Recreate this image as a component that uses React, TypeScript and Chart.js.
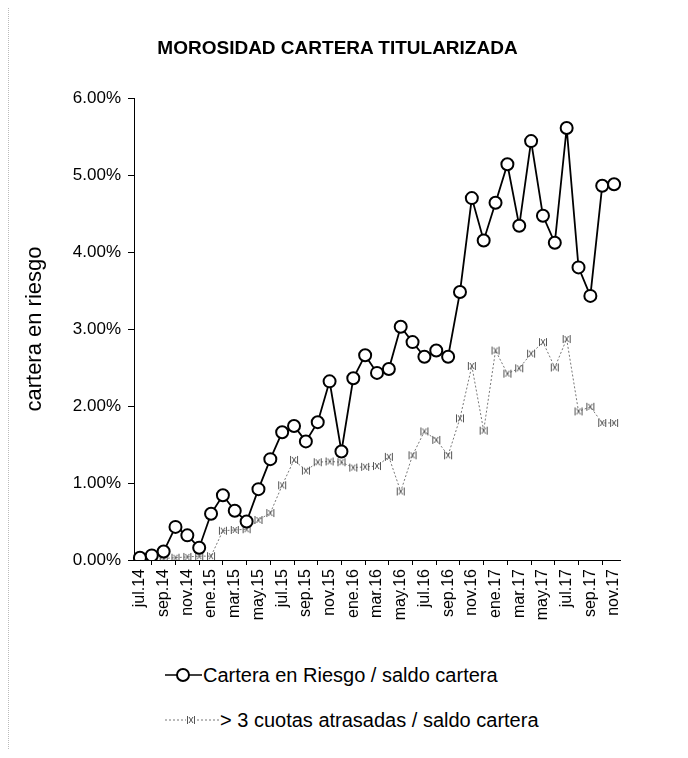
import React, { useEffect, useRef } from "react";
import { Chart, registerables } from "chart.js";

Chart.register(...registerables);

const months = [
  "jul.14", "ago.14", "sep.14", "oct.14", "nov.14", "dic.14",
  "ene.15", "feb.15", "mar.15", "abr.15", "may.15", "jun.15",
  "jul.15", "ago.15", "sep.15", "oct.15", "nov.15", "dic.15",
  "ene.16", "feb.16", "mar.16", "abr.16", "may.16", "jun.16",
  "jul.16", "ago.16", "sep.16", "oct.16", "nov.16", "dic.16",
  "ene.17", "feb.17", "mar.17", "abr.17", "may.17", "jun.17",
  "jul.17", "ago.17", "sep.17", "oct.17", "nov.17",
];

const carteraRiesgo = [
  0.03, 0.06, 0.11, 0.43, 0.32, 0.16,
  0.60, 0.84, 0.64, 0.50, 0.92, 1.31,
  1.66, 1.74, 1.54, 1.79, 2.32, 1.41,
  2.36, 2.66, 2.43, 2.48, 3.03, 2.83,
  2.64, 2.72, 2.64, 3.48, 4.70, 4.15,
  4.64, 5.14, 4.34, 5.44, 4.47, 4.12,
  5.61, 3.80, 3.43, 4.86, 4.88,
];

const tresCuotas = [
  0.00, 0.00, 0.02, 0.03, 0.04, 0.05,
  0.05, 0.38, 0.39, 0.40, 0.52, 0.61,
  0.97, 1.30, 1.16, 1.27, 1.28, 1.27,
  1.20, 1.21, 1.22, 1.34, 0.89, 1.36,
  1.67, 1.56, 1.36, 1.84, 2.52, 1.68,
  2.72, 2.42, 2.49, 2.68, 2.83, 2.50,
  2.87, 1.93, 1.99, 1.78, 1.78,
];

const TITLE = "MOROSIDAD CARTERA TITULARIZADA";
const Y_TITLE = "cartera en riesgo";
const LABEL_A = "Cartera en Riesgo / saldo cartera";
const LABEL_B = "> 3 cuotas atrasadas / saldo cartera";
const Y_MIN = 0;
const Y_MAX = 6;
const Y_STEP = 1;

const FONT = "'Liberation Sans', Arial, Helvetica, sans-serif";

function makeMarker(): HTMLCanvasElement {
  const c = document.createElement("canvas");
  c.width = 10;
  c.height = 10;
  const g = c.getContext("2d")!;
  g.strokeStyle = "#555";
  g.lineWidth = 1;
  g.beginPath();
  g.moveTo(1.5, 1);
  g.lineTo(1.5, 9);
  g.moveTo(8.5, 1);
  g.lineTo(8.5, 9);
  g.moveTo(3, 2);
  g.lineTo(7, 8);
  g.moveTo(7, 2);
  g.lineTo(3, 8);
  g.stroke();
  return c;
}

export default function App() {
  const ref = useRef<HTMLCanvasElement | null>(null);

  useEffect(() => {
    if (!ref.current) return;
    const marker = makeMarker();
    const chart = new Chart(ref.current, {
      type: "line",
      data: {
        labels: months,
        datasets: [
          {
            label: LABEL_A,
            data: carteraRiesgo,
            borderColor: "#000",
            borderWidth: 1.8,
            pointRadius: 6,
            pointBackgroundColor: "#fff",
            pointBorderColor: "#000",
            pointBorderWidth: 2,
            tension: 0,
          },
          {
            label: LABEL_B,
            data: tresCuotas,
            borderColor: "#777",
            borderWidth: 1,
            borderDash: [2, 2],
            pointStyle: marker as any,
            pointRadius: 5,
            tension: 0,
          },
        ],
      },
      options: {
        responsive: false,
        animation: false,
        devicePixelRatio: 1,
        layout: { padding: { left: 8, right: 60, top: 90, bottom: 0 } },
        plugins: {
          legend: { display: false },
          title: { display: false },
          tooltip: { enabled: false },
        },
        scales: {
          x: {
            offset: true,
            grid: {
              display: true,
              drawOnChartArea: false,
              drawTicks: true,
              tickLength: 5,
              color: "#000",
              offset: true,
            },
            border: { display: true, color: "#000", width: 1 },
            ticks: {
              autoSkip: false,
              maxRotation: 90,
              minRotation: 90,
              padding: 4,
              color: "#000",
              font: { family: FONT, size: 16 },
              callback: (_v: any, i: number) => (i % 2 === 0 ? months[i] : null),
            },
            afterFit: (s: any) => {
              s.height = 70;
            },
          },
          y: {
            min: Y_MIN,
            max: Y_MAX,
            ticks: {
              stepSize: Y_STEP,
              padding: 7,
              color: "#000",
              font: { family: FONT, size: 17 },
              callback: (v: any) => Number(v).toFixed(2) + "%",
            },
            grid: {
              display: true,
              drawOnChartArea: false,
              drawTicks: true,
              tickLength: 6,
              color: "#000",
            },
            border: { display: true, color: "#000", width: 1 },
            title: {
              display: true,
              text: Y_TITLE,
              color: "#000",
              font: { family: FONT, size: 22 },
              padding: { top: 6, bottom: 0 },
            },
            afterFit: (s: any) => {
              s.width = 118;
            },
          },
        },
      },
    });
    return () => chart.destroy();
  }, []);

  return (
    <div style={{ position: "relative", width: 672, height: 742, fontFamily: FONT, color: "#000" }}>
      <div
        style={{
          position: "absolute",
          top: -2,
          left: 0,
          width: 680,
          borderTop: "1px dotted #999",
        }}
      />
      <div
        style={{
          position: "absolute",
          top: -2,
          left: 0,
          height: 745,
          borderLeft: "1px dotted #bbb",
        }}
      />
      <div
        style={{
          position: "absolute",
          top: 682,
          left: 675,
          height: 68,
          borderLeft: "1px solid #999",
        }}
      />
      <div
        style={{
          position: "absolute",
          top: 29,
          left: 329.5,
          transform: "translateX(-50%)",
          whiteSpace: "nowrap",
          fontWeight: "bold",
          fontSize: 19,
          lineHeight: "22px",
        }}
      >
        {TITLE}
      </div>
      <canvas ref={ref} width={672} height={622} style={{ display: "block", width: 672, height: 622 }} />
      <div
        style={{
          position: "absolute",
          top: 656,
          left: 157,
          display: "flex",
          alignItems: "center",
          whiteSpace: "nowrap",
          fontSize: 20,
          lineHeight: "22px",
        }}
      >
        <svg width={37} height={20} style={{ display: "block" }}>
          <line x1={0} y1={10} x2={37} y2={10} stroke="#000" strokeWidth={1.5} />
          <circle cx={18} cy={10} r={6} fill="#fff" stroke="#000" strokeWidth={2} />
        </svg>
        <span style={{ marginLeft: 1 }}>{LABEL_A}</span>
      </div>
      <div
        style={{
          position: "absolute",
          top: 701,
          left: 157,
          display: "flex",
          alignItems: "center",
          whiteSpace: "nowrap",
          fontSize: 20,
          lineHeight: "22px",
        }}
      >
        <svg width={54} height={20} style={{ display: "block" }}>
          <line x1={0} y1={10} x2={54} y2={10} stroke="#777" strokeWidth={1} strokeDasharray="2 2" />
          <rect x={21} y={5} width={10} height={10} fill="#fff" />
          <g stroke="#555" strokeWidth={1}>
            <line x1={22.5} y1={6} x2={22.5} y2={14} />
            <line x1={29.5} y1={6} x2={29.5} y2={14} />
            <line x1={24} y1={7} x2={28} y2={13} />
            <line x1={28} y1={7} x2={24} y2={13} />
          </g>
        </svg>
        <span style={{ marginLeft: 1 }}>{LABEL_B}</span>
      </div>
    </div>
  );
}
